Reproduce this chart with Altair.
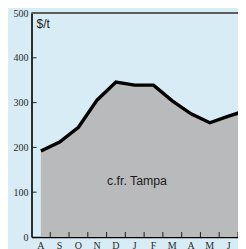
import altair as alt
import pandas as pd

months = ["A", "S", "O", "N", "D", "J", "F", "M", "A", "M", "J", "J"]
prices = [192, 212, 245, 306, 346, 339, 339, 304, 275, 255, 270, 283]
y_ticks = [100, 200, 300, 400]

idx = list(range(len(months)))
df = pd.DataFrame({"i": idx, "m": months, "v": prices})
tick_df = pd.DataFrame({"b": [k + 0.5 for k in idx]})
ytick_df = pd.DataFrame({"t": y_ticks})

W, H = 206.5, 224
x_dom = [-0.5, -0.5 + W / 18.77]

xs = alt.Scale(domain=x_dom, nice=False, zero=False)
ys = alt.Scale(domain=[0, 500], nice=False)

x_enc = alt.X("i:Q", scale=xs, axis=alt.Axis(
    labels=False, ticks=False, grid=False,
    domainColor="#000", domainWidth=1.6, title=None))
y_enc = alt.Y("v:Q", scale=ys, axis=alt.Axis(
    values=[0, 100, 200, 300, 400, 500], ticks=False, grid=False,
    domainColor="#000", domainWidth=1.6, labelPadding=3.5,
    labelFont="Liberation Sans Narrow", labelFontSize=10, labelColor="#2a2a2a",
    title=None))

area = alt.Chart(df).mark_area(color="#b9babb", clip=True).encode(x=x_enc, y=y_enc)
line = alt.Chart(df).mark_line(color="#000", strokeWidth=3.4, clip=True,
                               strokeJoin="miter").encode(x="i:Q", y="v:Q")

xlabels = alt.Chart(df).mark_text(
    align="center", baseline="top", font="Liberation Sans Narrow", fontSize=10,
    color="#2a2a2a", clip=False).transform_filter(alt.datum.i <= 10).encode(
    x=alt.X("i:Q", scale=xs), text="m:N", y=alt.value(H + 4))

xticks = alt.Chart(tick_df).mark_rule(color="#222", strokeWidth=1, clip=True).encode(
    x=alt.X("b:Q", scale=xs), y=alt.value(H), y2=alt.value(H - 5))
yticks = alt.Chart(ytick_df).mark_rule(color="#222", strokeWidth=1).encode(
    y=alt.Y("t:Q", scale=ys), x=alt.value(0), x2=alt.value(5))
top_border = alt.Chart(ytick_df).mark_rule(color="#555", strokeWidth=1).encode(
    x=alt.value(0), x2=alt.value(W), y=alt.value(0))

unit = alt.Chart(pd.DataFrame({"u": ["$/t"]})).mark_text(
    align="left", baseline="alphabetic", font="Liberation Sans", fontSize=12,
    color="#1a1a1a").encode(text="u:N", x=alt.value(5), y=alt.value(15.3))
label = alt.Chart(pd.DataFrame({"l": ["c.fr. Tampa"]})).mark_text(
    align="center", baseline="alphabetic", font="Liberation Sans", fontSize=12.3,
    color="#1a1a1a").encode(text="l:N", x=alt.value(105.5), y=alt.value(171.5))

chart = alt.layer(area, line, xticks, yticks, top_border, xlabels, unit, label).properties(
    width=W, height=H, background="#d7ecf5",
    padding={"left": 23.5, "top": 5, "right": 0, "bottom": 16},
    autosize=alt.AutoSizeParams(type="none"),
).configure_view(strokeWidth=0)

chart.save("out.html", embed_options={"renderer": "svg", "actions": False})
